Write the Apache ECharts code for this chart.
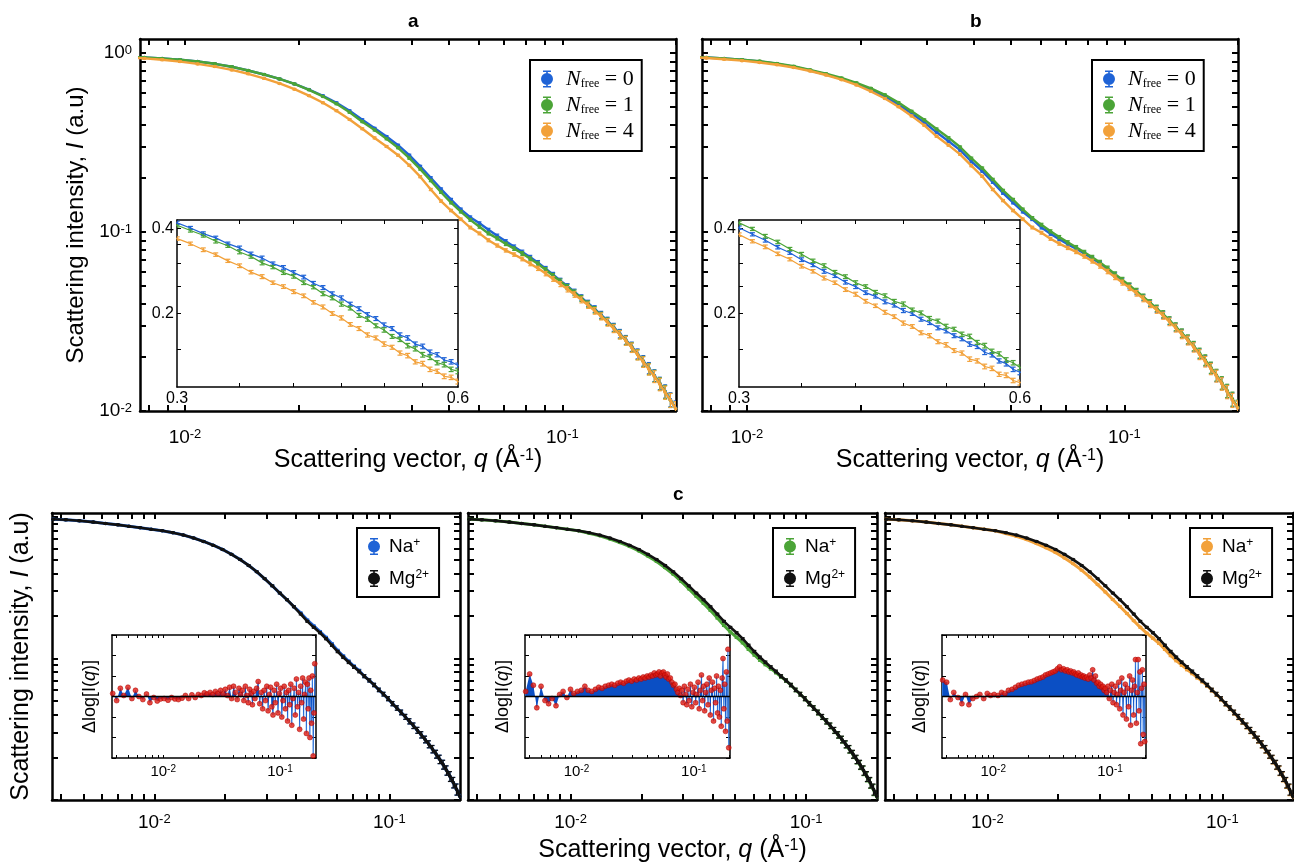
<!DOCTYPE html>
<html><head><meta charset="utf-8">
<script src="https://cdn.jsdelivr.net/npm/echarts@6.0.0/dist/echarts.min.js"></script>
<style>html,body{margin:0;padding:0;background:#fff}#c{width:1294px;height:865px}</style>
</head><body><div id="c"></div>
<script>
// ---------------- DATA ----------------
const qMain = [0.0037,0.0042,0.0048,0.0055,0.0062,0.0070,0.0078,0.0087,0.0097,0.0108,0.0120,0.0133,0.0147,0.0162,0.0178,0.0195,0.0213,0.0232,0.0252,0.0273,0.0295,0.0318,0.0342,0.0367,0.0393,0.0420,0.0448,0.0477,0.0507,0.0538,0.0570,0.0603,0.0637,0.0672,0.0708,0.0745,0.0783,0.0822,0.0862,0.0903,0.0945,0.0988,0.1032,0.1077,0.1123,0.1170,0.1218,0.1267,0.1317,0.1368,0.1420,0.1473,0.1527,0.1582,0.1638,0.1695,0.1753,0.1812,0.1872,0.1933,0.1995];
// panel a : Na+
const naN0 = [0.987,0.983,0.978,0.972,0.965,0.956,0.946,0.933,0.918,0.898,0.872,0.840,0.800,0.760,0.718,0.673,0.626,0.578,0.528,0.476,0.425,0.380,0.342,0.306,0.269,0.233,0.201,0.174,0.152,0.134,0.121,0.112,0.103,0.0955,0.0888,0.0829,0.0774,0.0723,0.0675,0.0625,0.0578,0.0535,0.0498,0.0463,0.043,0.0400,0.0372,0.0345,0.0319,0.0294,0.0271,0.0250,0.0229,0.0209,0.0191,0.0174,0.0158,0.0143,0.0129,0.0116,0.0104];
const naN1 = [0.987,0.983,0.978,0.972,0.965,0.956,0.946,0.933,0.918,0.898,0.872,0.840,0.800,0.760,0.718,0.673,0.624,0.573,0.521,0.467,0.414,0.372,0.332,0.296,0.259,0.225,0.194,0.167,0.146,0.130,0.117,0.107,0.0983,0.0922,0.0859,0.0808,0.0759,0.0709,0.0663,0.0616,0.0570,0.0530,0.0493,0.0458,0.0426,0.0396,0.0368,0.0341,0.0316,0.0291,0.0268,0.0248,0.0227,0.0207,0.0189,0.0172,0.0157,0.0142,0.0128,0.0115,0.0103];
const naN4 = [0.986,0.981,0.976,0.969,0.960,0.949,0.935,0.918,0.897,0.871,0.841,0.806,0.767,0.723,0.677,0.629,0.579,0.528,0.477,0.426,0.378,0.336,0.301,0.269,0.236,0.204,0.173,0.149,0.132,0.118,0.106,0.0983,0.090,0.0841,0.079,0.0749,0.0708,0.0665,0.0627,0.0586,0.0547,0.0512,0.0479,0.0448,0.0418,0.0390,0.0363,0.0338,0.0313,0.0289,0.0267,0.0247,0.0226,0.0206,0.0188,0.0171,0.0156,0.0141,0.0127,0.0115,0.0103];
// panel b : Mg2+
const mgN0 = [0.987,0.983,0.978,0.972,0.965,0.956,0.946,0.933,0.918,0.898,0.872,0.840,0.800,0.760,0.718,0.673,0.622,0.570,0.516,0.460,0.410,0.361,0.322,0.287,0.248,0.219,0.190,0.165,0.146,0.130,0.118,0.106,0.0979,0.0913,0.0854,0.0808,0.0760,0.0713,0.0668,0.0620,0.0575,0.0535,0.0498,0.0463,0.0430,0.0400,0.0372,0.0345,0.0319,0.0294,0.0271,0.0250,0.0229,0.0209,0.0191,0.0174,0.0158,0.0143,0.0129,0.0116,0.0104];
const mgN1 = [0.987,0.983,0.978,0.972,0.965,0.957,0.947,0.935,0.920,0.903,0.876,0.845,0.807,0.768,0.727,0.683,0.636,0.585,0.530,0.474,0.424,0.377,0.337,0.299,0.259,0.228,0.197,0.171,0.152,0.134,0.120,0.110,0.101,0.0938,0.0876,0.0823,0.0772,0.0723,0.0677,0.0628,0.0582,0.0541,0.0503,0.0468,0.0434,0.0403,0.0375,0.0348,0.0321,0.0296,0.0273,0.0252,0.0231,0.0211,0.0193,0.0175,0.0159,0.0144,0.0130,0.0117,0.0105];
const mgN4 = [0.986,0.982,0.977,0.970,0.962,0.952,0.940,0.925,0.908,0.887,0.862,0.831,0.795,0.755,0.711,0.664,0.612,0.558,0.502,0.446,0.395,0.343,0.306,0.272,0.235,0.205,0.173,0.150,0.132,0.118,0.106,0.0992,0.0917,0.0862,0.0816,0.0775,0.0732,0.0688,0.0646,0.0602,0.0559,0.0522,0.0488,0.0455,0.0424,0.0394,0.0367,0.0341,0.0315,0.0291,0.0268,0.0248,0.0227,0.0207,0.0189,0.0172,0.0157,0.0142,0.0128,0.0115,0.0104];
// panel c : Na+ vs Mg2+ (own normalisation)
const cMg  = [0.965,0.955,0.940,0.920,0.900,0.880,0.860,0.840,0.820,0.800,0.775,0.745,0.710,0.672,0.632,0.590,0.545,0.500,0.455,0.410,0.366,0.326,0.290,0.260,0.232,0.206,0.183,0.166,0.152,0.138,0.124,0.112,0.102,0.094,0.087,0.081,0.075,0.070,0.065,0.060,0.056,0.052,0.048,0.0447,0.0416,0.0387,0.0360,0.0335,0.0311,0.0289,0.0268,0.0248,0.0229,0.0211,0.0194,0.0178,0.0162,0.0147,0.0133,0.0119,0.0106];
const cNa0 = [0.965,0.955,0.940,0.920,0.900,0.880,0.860,0.840,0.820,0.800,0.775,0.745,0.710,0.672,0.632,0.590,0.545,0.500,0.455,0.410,0.366,0.326,0.290,0.260,0.232,0.210,0.187,0.170,0.155,0.141,0.127,0.114,0.104,0.0955,0.088,0.082,0.075,0.070,0.065,0.060,0.056,0.052,0.048,0.0447,0.0416,0.0387,0.0360,0.0335,0.0311,0.0289,0.0268,0.0248,0.0229,0.0211,0.0194,0.0178,0.0162,0.0147,0.0133,0.0119,0.0106];
const cNa1 = [0.965,0.955,0.940,0.920,0.900,0.880,0.860,0.840,0.820,0.800,0.767,0.736,0.699,0.660,0.619,0.575,0.529,0.484,0.438,0.394,0.350,0.310,0.275,0.245,0.218,0.193,0.171,0.154,0.141,0.129,0.116,0.106,0.0974,0.0907,0.0848,0.0796,0.0743,0.0697,0.0648,0.0599,0.0559,0.0520,0.0480,0.0447,0.0415,0.0386,0.0359,0.0334,0.0310,0.0288,0.0267,0.0247,0.0228,0.0210,0.0193,0.0177,0.0161,0.0146,0.0132,0.0118,0.0105];
const cNa4 = [0.965,0.955,0.940,0.920,0.900,0.880,0.860,0.840,0.820,0.800,0.763,0.730,0.692,0.649,0.605,0.561,0.513,0.467,0.421,0.376,0.333,0.295,0.261,0.233,0.208,0.185,0.166,0.151,0.139,0.128,0.116,0.105,0.0967,0.0898,0.0837,0.0786,0.0733,0.0689,0.0644,0.0597,0.0557,0.0517,0.0478,0.0445,0.0414,0.0385,0.0358,0.0333,0.0309,0.0288,0.0267,0.0247,0.0228,0.0210,0.0193,0.0177,0.0161,0.0146,0.0132,0.0118,0.0105];
// relative error of the intensities
const errRel = [0.015,0.014,0.013,0.012,0.012,0.011,0.011,0.010,0.010,0.010,0.010,0.010,0.010,0.010,0.010,0.010,0.010,0.010,0.011,0.011,0.011,0.012,0.012,0.012,0.013,0.013,0.014,0.014,0.015,0.016,0.017,0.018,0.019,0.020,0.021,0.022,0.024,0.025,0.027,0.028,0.030,0.032,0.034,0.036,0.038,0.040,0.042,0.045,0.048,0.051,0.054,0.057,0.060,0.064,0.068,0.072,0.076,0.080,0.085,0.090,0.095];

// insets of a / b (q in nm^-1)
const qIn = [0.30,0.31,0.32,0.33,0.34,0.35,0.36,0.37,0.38,0.39,0.40,0.41,0.42,0.43,0.44,0.45,0.46,0.47,0.48,0.49,0.50,0.51,0.52,0.53,0.54,0.55,0.56,0.57,0.58,0.59,0.60];
const aIn0 = [0.418,0.401,0.383,0.370,0.353,0.341,0.325,0.314,0.300,0.291,0.279,0.269,0.256,0.247,0.235,0.227,0.216,0.208,0.198,0.192,0.182,0.177,0.168,0.164,0.156,0.153,0.146,0.143,0.137,0.135,0.131];
const aIn1 = [0.410,0.393,0.378,0.360,0.347,0.330,0.318,0.302,0.292,0.279,0.271,0.257,0.248,0.235,0.227,0.216,0.209,0.197,0.191,0.181,0.175,0.166,0.162,0.154,0.150,0.143,0.140,0.134,0.132,0.127,0.125];
const aIn4 = [0.368,0.353,0.336,0.323,0.307,0.295,0.280,0.270,0.257,0.249,0.239,0.231,0.219,0.211,0.200,0.193,0.183,0.177,0.168,0.164,0.156,0.152,0.145,0.142,0.135,0.133,0.127,0.125,0.120,0.119,0.115];
const bIn0 = [0.402,0.381,0.363,0.343,0.328,0.310,0.297,0.282,0.272,0.258,0.249,0.237,0.230,0.220,0.214,0.205,0.200,0.191,0.186,0.178,0.174,0.167,0.163,0.156,0.153,0.146,0.143,0.136,0.133,0.127,0.124];
const bIn1 = [0.418,0.398,0.375,0.358,0.338,0.324,0.307,0.295,0.280,0.270,0.257,0.249,0.238,0.231,0.221,0.216,0.206,0.201,0.192,0.188,0.180,0.176,0.169,0.166,0.158,0.154,0.147,0.144,0.137,0.134,0.129];
const bIn4 = [0.380,0.360,0.344,0.325,0.311,0.294,0.282,0.267,0.257,0.243,0.234,0.221,0.213,0.202,0.195,0.185,0.180,0.171,0.167,0.159,0.155,0.148,0.145,0.138,0.136,0.130,0.128,0.122,0.121,0.116,0.114];
const errIn = [0.014,0.013,0.015,0.014,0.013,0.015,0.014,0.016,0.014,0.015,0.016,0.015,0.014,0.016,0.015,0.017,0.015,0.016,0.017,0.016,0.018,0.016,0.017,0.018,0.017,0.019,0.018,0.017,0.019,0.018,0.020];

// residuals  Δlog[I(q)]  (panel c insets)
const qRes = [0.0037,0.0040,0.0043,0.0046,0.0050,0.0054,0.0058,0.0062,0.0067,0.0072,0.0077,0.0083,0.0089,0.0095,0.0102,0.0110,0.0118,0.0126,0.0135,0.0145,0.0155,0.0165,0.0176,0.0188,0.0200,0.0212,0.0225,0.0238,0.0252,0.0266,0.0280,0.0295,0.0310,0.0325,0.0340,0.0355,0.0370,0.0385,0.0400,0.0415,0.0430,0.0445,0.0460,0.0475,0.0490,0.0505,0.0520,0.0535,0.0550,0.0565,0.0580,0.0595,0.0610,0.0630,0.0650,0.0670,0.0690,0.0710,0.0730,0.0750,0.0770,0.0790,0.0810,0.0830,0.0850,0.0870,0.0890,0.0910,0.0935,0.0960,0.0985,0.1010,0.1035,0.1060,0.1085,0.1110,0.1135,0.1160,0.1185,0.1210,0.1235,0.1260,0.1290,0.1320,0.1350,0.1380,0.1410,0.1440,0.1470,0.1500,0.1530,0.1560,0.1590,0.1620,0.1650,0.1680,0.1710,0.1740,0.1770,0.1800,0.1830,0.1860,0.1890,0.1920,0.1950,0.1980];
const resN0 = [0.015,-0.02,0.04,0.005,0.045,-0.01,0.03,0.0,-0.015,0.012,-0.03,-0.005,-0.022,-0.012,-0.01,-0.018,-0.005,-0.012,-0.015,-0.008,0.005,-0.01,0.008,-0.005,0.01,0.005,0.018,0.012,0.02,0.01,0.025,0.015,0.03,0.012,0.035,0.005,0.045,-0.01,0.05,0.02,-0.015,0.04,0.01,0.03,-0.02,0.05,0.005,-0.03,0.035,0.015,-0.04,0.025,-0.01,0.04,0.073,-0.035,0.02,-0.06,0.03,-0.02,0.05,-0.07,0.01,0.045,-0.05,-0.09,0.03,-0.03,0.06,-0.08,0.015,0.04,-0.1,-0.02,0.05,-0.06,0.02,-0.12,0.03,-0.04,0.06,-0.14,-0.01,0.04,-0.09,0.085,-0.05,0.02,-0.16,0.05,-0.03,0.09,-0.11,0.01,0.07,-0.18,0.06,-0.06,0.09,-0.2,0.03,-0.13,0.1,-0.29,-0.08,0.16];
const resN1 = [0.025,0.11,0.055,-0.055,0.05,-0.02,-0.035,-0.01,-0.045,0.01,0.025,-0.005,0.035,0.015,0.025,0.03,0.05,0.03,0.025,0.035,0.045,0.04,0.05,0.055,0.06,0.055,0.065,0.07,0.065,0.075,0.08,0.075,0.085,0.08,0.09,0.085,0.095,0.09,0.1,0.095,0.105,0.1,0.115,0.105,0.11,0.12,0.1,0.115,0.12,0.105,0.095,0.11,0.085,0.09,0.07,0.055,0.06,0.035,0.02,0.04,0.005,0.03,-0.03,0.05,0.01,-0.04,0.035,-0.02,0.06,-0.05,0.02,0.045,-0.03,0.01,0.07,-0.06,0.03,0.105,-0.02,0.05,-0.07,0.02,0.06,-0.04,0.09,-0.09,0.03,0.07,-0.12,0.04,-0.03,0.1,-0.08,0.05,-0.1,0.03,-0.145,0.09,0.185,-0.06,0.06,-0.17,0.12,-0.12,0.23,-0.25];
const resN4 = [0.08,0.07,-0.015,0.02,-0.005,-0.035,0.01,-0.04,-0.01,0.0,0.01,-0.01,0.015,0.005,0.01,0.005,0.02,0.015,0.03,0.035,0.045,0.055,0.06,0.065,0.07,0.072,0.078,0.085,0.09,0.095,0.105,0.11,0.115,0.12,0.125,0.135,0.145,0.13,0.135,0.125,0.13,0.12,0.125,0.115,0.12,0.11,0.105,0.115,0.1,0.105,0.095,0.1,0.09,0.095,0.085,0.105,0.09,0.13,0.08,0.1,0.065,0.07,0.05,0.06,0.045,0.05,0.03,0.04,0.02,0.05,-0.01,0.03,0.06,-0.03,0.02,0.05,-0.04,0.01,0.07,-0.06,0.03,0.09,-0.09,0.02,0.06,-0.11,0.04,-0.05,0.1,-0.14,0.03,0.08,-0.09,0.05,0.18,-0.13,0.02,0.18,-0.07,0.12,-0.23,0.04,0.13,-0.185,0.06,-0.22];

// tick values / labels
const TICKS_AB_X = [0.008,0.009,0.01,0.02,0.03,0.04,0.05,0.06,0.07,0.08,0.09,0.1,0.2];
const LABELS_X = [0.01,0.1];
const TICKS_Y = [0.01,0.02,0.03,0.04,0.05,0.06,0.07,0.08,0.09,0.1,0.2,0.3,0.4,0.5,0.6,0.7,0.8,0.9,1];
const LABELS_AB_Y = [0.01,0.1,1];
const TICKS_C_X = [0.004,0.005,0.006,0.007,0.008,0.009,0.01,0.02,0.03,0.04,0.05,0.06,0.07,0.08,0.09,0.1,0.2];
const TICKS_IN_X = [0.35,0.4,0.45,0.5,0.55];
const LABELS_IN_X = [0.3,0.6];
const TICKS_IN_Y = [0.15,0.2,0.25,0.3,0.35,0.4];
const LABELS_IN_Y = [0.2,0.4];
const NFREE = ['0','1','4'];

// ---------------- STYLE / BUILD ----------------
const FONT = 'Liberation Sans, Arial, Helvetica, sans-serif';
const SERIF = 'Liberation Serif, Times New Roman, serif';
const C_BLUE = '#1f63d6', C_GREEN = '#4ba437', C_ORANGE = '#f2a13a', C_BLACK = '#111111';
const ICON = 'path://M2,0H10V1.6H2Z M5.2,0H6.8V17H5.2Z M2,15.4H10V17H2Z M0,8.5A6,6,0,1,1,12,8.5A6,6,0,1,1,0,8.5Z';
const XNAME = 'Scattering vector, {i|q} (Å{s|-1})';
const YNAME = 'Scattering intensity, {i|I} (a.u)';
const DNAME = 'Δlog[I({i|q})]';
const pow10 = v => { const e = Math.round(Math.log10(v)); return '10{s|' + (e < 0 ? '-' + (-e) : e) + '}'; };
const fix1 = v => v.toFixed(1);

const option = {animation:false, backgroundColor:'#ffffff', title:[], grid:[], xAxis:[], yAxis:[], legend:[], series:[]};
const T = (t, l, tp) => ({text:t, left:l, top:tp, textStyle:{fontFamily:FONT, fontSize:19, fontWeight:'bold', color:'#000'}});
option.title.push(T('a', 403, 7), T('b', 965, 7), T('c', 668, 480));

function mkAxis(g, pos, s, primary) {
  const a = {
    type: s.type || 'log', gridIndex: g, position: pos, min: s.min, max: s.max, silent: true,
    axisLine: {show: true, onZero: false, lineStyle: {color: '#000', width: s.lw}},
    axisTick: {show: true, inside: true, length: s.tl, lineStyle: {color: '#000', width: s.tw}},
    axisLabel: {show: false}, splitLine: {show: false}, axisPointer: {show: false}
  };
  if (s.type === 'value') { a.interval = s.interval; } else { a.logBase = 10; a.axisTick.customValues = s.ticks; }
  if (primary && s.labels) {
    a.axisLabel = {show: true, customValues: s.labels, formatter: s.fmt, fontSize: s.fs, fontFamily: FONT, color: '#000', margin: s.margin,
      rich: {s: {fontSize: Math.round(s.fs * 0.66), verticalAlign: 'top', lineHeight: Math.round(s.fs * 0.7), fontFamily: FONT, color: '#000'}}};
  }
  if (primary && s.name) {
    a.name = s.name; a.nameLocation = 'middle'; a.nameGap = s.nameGap;
    a.nameTextStyle = {fontFamily: FONT, fontSize: s.nameFs, color: '#000',
      rich: {i: {fontStyle: 'italic', fontFamily: FONT, fontSize: s.nameFs, color: '#000'},
             s: {fontSize: Math.round(s.nameFs * 0.62), verticalAlign: 'top', lineHeight: Math.round(s.nameFs * 0.7), fontFamily: FONT, color: '#000'}}};
  }
  return a;
}
function addPanel(box, xs, ys, bg) {
  const g = option.grid.length;
  option.grid.push({left: box[0], top: box[1], width: box[2], height: box[3], show: !!bg, backgroundColor: bg || 'transparent', borderWidth: 0});
  const xi = option.xAxis.length, yi = option.yAxis.length;
  option.xAxis.push(mkAxis(g, 'bottom', xs, true), mkAxis(g, 'top', xs, false));
  option.yAxis.push(mkAxis(g, 'left', ys, true), mkAxis(g, 'right', ys, false));
  return {xi, yi};
}
function errRender(capW, lw) {
  return function (params, api) {
    const x = api.value(0);
    const p1 = api.coord([x, api.value(2)]), p2 = api.coord([x, api.value(3)]);
    const st = {stroke: api.visual('color'), lineWidth: lw};
    return {type: 'group', children: [
      {type: 'line', shape: {x1: p1[0], y1: p1[1], x2: p2[0], y2: p2[1]}, style: st},
      {type: 'line', shape: {x1: p1[0] - capW, y1: p1[1], x2: p1[0] + capW, y2: p1[1]}, style: st},
      {type: 'line', shape: {x1: p2[0] - capW, y1: p2[1], x2: p2[0] + capW, y2: p2[1]}, style: st}]};
  };
}
function curve(ax, name, q, I, err, color, lw, sym, cap, z) {
  option.series.push({type: 'line', name: name + '_line', xAxisIndex: ax.xi, yAxisIndex: ax.yi,
    data: q.map((x, i) => [x, I[i]]), symbol: 'circle', symbolSize: sym, showSymbol: true,
    lineStyle: {color: color, width: lw}, itemStyle: {color: color}, z: z, silent: true, clip: true});
  option.series.push({type: 'custom', name: name, xAxisIndex: ax.xi, yAxisIndex: ax.yi,
    data: q.map((x, i) => [x, I[i], I[i] * (1 - err[i]), I[i] * (1 + err[i])]),
    renderItem: errRender(cap, 1.2), encode: {x: 0, y: [1, 2, 3]}, itemStyle: {color: color}, z: z, silent: true, clip: true});
}
function stemRender(params, api) {
  const x = api.value(0);
  const p0 = api.coord([x, 0]), p1 = api.coord([x, api.value(1)]);
  return {type: 'line', shape: {x1: p0[0], y1: p0[1], x2: p1[0], y2: p1[1]}, style: {stroke: '#3f82e0', lineWidth: 1.3}};
}
function residual(ax, q, v) {
  const d = q.map((x, i) => [x, v[i]]);
  option.series.push({type: 'custom', xAxisIndex: ax.xi, yAxisIndex: ax.yi, data: d, renderItem: stemRender,
    encode: {x: 0, y: 1}, z: 2, clip: true, silent: true});
  option.series.push({type: 'line', xAxisIndex: ax.xi, yAxisIndex: ax.yi, data: d, symbol: 'none',
    lineStyle: {width: 0, opacity: 0}, areaStyle: {color: '#0b4fc4', opacity: 1, origin: 'auto'}, z: 3, silent: true,
    markLine: {silent: true, symbol: 'none', label: {show: false}, lineStyle: {color: '#000', width: 1.3, type: 'solid'}, data: [{yAxis: 0}]}});
  option.series.push({type: 'scatter', xAxisIndex: ax.xi, yAxisIndex: ax.yi, data: d, symbolSize: 5,
    itemStyle: {color: '#e01b12', borderColor: '#a80000', borderWidth: 0.6}, z: 4, silent: true});
}
function legendAB(left, names) {
  return {left: left, top: 60, orient: 'vertical', data: names.map(n => ({name: n, icon: ICON})), itemWidth: 12, itemHeight: 17,
    itemGap: 4, borderColor: '#000', borderWidth: 2, padding: [8, 8, 9, 11], backgroundColor: '#fff', selectedMode: false,
    formatter: n => '{n|N}{f|free}{e| = ' + NFREE[names.indexOf(n)] + '}',
    textStyle: {rich: {n: {fontFamily: SERIF, fontStyle: 'italic', fontSize: 22, color: '#000', padding: [0, 0, 0, 8]},
      f: {fontFamily: SERIF, fontSize: 12, verticalAlign: 'bottom', color: '#000'},
      e: {fontFamily: SERIF, fontSize: 22, color: '#000'}}}};
}
function legendC(left, names) {
  return {left: left, top: 528, orient: 'vertical', data: names.map(n => ({name: n, icon: ICON})), itemWidth: 12, itemHeight: 17,
    itemGap: 13, borderColor: '#000', borderWidth: 2, padding: [9, 10, 9, 11], backgroundColor: '#fff', selectedMode: false,
    formatter: n => (names.indexOf(n) === 0 ? '{b|Na}{s|+}' : '{b|Mg}{s|2+}'),
    textStyle: {fontFamily: FONT, fontSize: 19, color: '#000', rich: {b: {fontFamily: FONT, fontSize: 19, color: '#000', padding: [0, 0, 0, 4]}, s: {fontFamily: FONT, fontSize: 12, verticalAlign: 'top', color: '#000'}}}};
}

// axis specs
const sABx = {min: 0.0076, max: 0.2, ticks: TICKS_AB_X, labels: LABELS_X, fmt: pow10, fs: 19, margin: 17, lw: 2.5, tl: 6, tw: 2, name: XNAME, nameGap: 32, nameFs: 25};
const sABy = {min: 0.01, max: 1.2, ticks: TICKS_Y, labels: LABELS_AB_Y, fmt: pow10, fs: 19, margin: 8, lw: 2.5, tl: 6, tw: 2, name: YNAME, nameGap: 52, nameFs: 24};
const sBy = {min: 0.01, max: 1.2, ticks: TICKS_Y, lw: 2.5, tl: 6, tw: 2};
const sInX = {min: 0.2999, max: 0.6001, ticks: TICKS_IN_X, labels: LABELS_IN_X, fmt: fix1, fs: 16, margin: 4, lw: 1.5, tl: 4, tw: 1};
const sInY = {min: 0.11, max: 0.428, ticks: TICKS_IN_Y, labels: LABELS_IN_Y, fmt: fix1, fs: 16, margin: 3, lw: 1.5, tl: 4, tw: 1};
const sCx = {min: 0.00367, max: 0.2, ticks: TICKS_C_X, labels: LABELS_X, fmt: pow10, fs: 19, margin: 13, lw: 2.5, tl: 6, tw: 2};
const sCy = {min: 0.01, max: 1.067, ticks: TICKS_Y, lw: 2.5, tl: 6, tw: 2};
const sRx = {min: 0.00365, max: 0.203, ticks: TICKS_C_X, labels: LABELS_X, fmt: pow10, fs: 15, margin: 6, lw: 1.5, tl: 3, tw: 1};
const sRy = {type: 'value', min: -0.3, max: 0.3, interval: 0.1, lw: 1.5, tl: 4, tw: 1, name: DNAME, nameGap: 13, nameFs: 18};

// panel a
const pa = addPanel([140, 39, 536, 372], sABx, sABy);
curve(pa, 'aN0', qMain, naN0, errRel, C_BLUE, 2.4, 3.5, 2, 2);
curve(pa, 'aN1', qMain, naN1, errRel, C_GREEN, 2.4, 3.5, 2, 3);
curve(pa, 'aN4', qMain, naN4, errRel, C_ORANGE, 2.4, 3.5, 2, 4);
const ia = addPanel([177, 220, 281, 167], sInX, sInY, '#fff');
curve(ia, 'iaN0', qIn, aIn0, errIn, C_BLUE, 1.2, 2, 2.5, 5);
curve(ia, 'iaN1', qIn, aIn1, errIn, C_GREEN, 1.2, 2, 2.5, 5);
curve(ia, 'iaN4', qIn, aIn4, errIn, C_ORANGE, 1.2, 2, 2.5, 5);
option.legend.push(legendAB(530, ['aN0', 'aN1', 'aN4']));

// panel b
const pb = addPanel([702, 39, 536, 372], sABx, sBy);
curve(pb, 'bN0', qMain, mgN0, errRel, C_BLUE, 2.4, 3.5, 2, 2);
curve(pb, 'bN1', qMain, mgN1, errRel, C_GREEN, 2.4, 3.5, 2, 3);
curve(pb, 'bN4', qMain, mgN4, errRel, C_ORANGE, 2.4, 3.5, 2, 4);
const ib = addPanel([739, 220, 281, 167], sInX, sInY, '#fff');
curve(ib, 'ibN0', qIn, bIn0, errIn, C_BLUE, 1.2, 2, 2.5, 5);
curve(ib, 'ibN1', qIn, bIn1, errIn, C_GREEN, 1.2, 2, 2.5, 5);
curve(ib, 'ibN4', qIn, bIn4, errIn, C_ORANGE, 1.2, 2, 2.5, 5);
option.legend.push(legendAB(1092, ['bN0', 'bN1', 'bN4']));

// panel c
const pc = [[52, 513, 408, 287], [468, 513, 409, 287], [885, 513, 408, 287]];
const rc = [[112, 635, 204, 123], [525, 635, 205, 123], [942, 635, 204, 123]];
const cNa = [cNa0, cNa1, cNa4], cRes = [resN0, resN1, resN4];
const cCol = [C_BLUE, C_GREEN, C_ORANGE], cLeg = [357, 773, 1190];
for (let k = 0; k < 3; k++) {
  const ys = k === 0 ? Object.assign({}, sCy, {name: YNAME, nameGap: 18, nameFs: 25}) : sCy;
  const xs = k === 1 ? Object.assign({}, sCx, {name: XNAME, nameGap: 38, nameFs: 25}) : sCx;
  const p = addPanel(pc[k], xs, ys);
  curve(p, 'c' + k + 'Na', qMain, cNa[k], errRel, cCol[k], 3, 3.5, 2, 2);
  curve(p, 'c' + k + 'Mg', qMain, cMg, errRel, C_BLACK, 2.6, 3.5, 2, 3);
  const r = addPanel(rc[k], sRx, sRy, '#fff');
  residual(r, qRes, cRes[k]);
  option.legend.push(legendC(cLeg[k], ['c' + k + 'Na', 'c' + k + 'Mg']));
}

const chart = echarts.init(document.getElementById('c'), null, {renderer: 'canvas'});
chart.setOption(option);
</script></body></html>
